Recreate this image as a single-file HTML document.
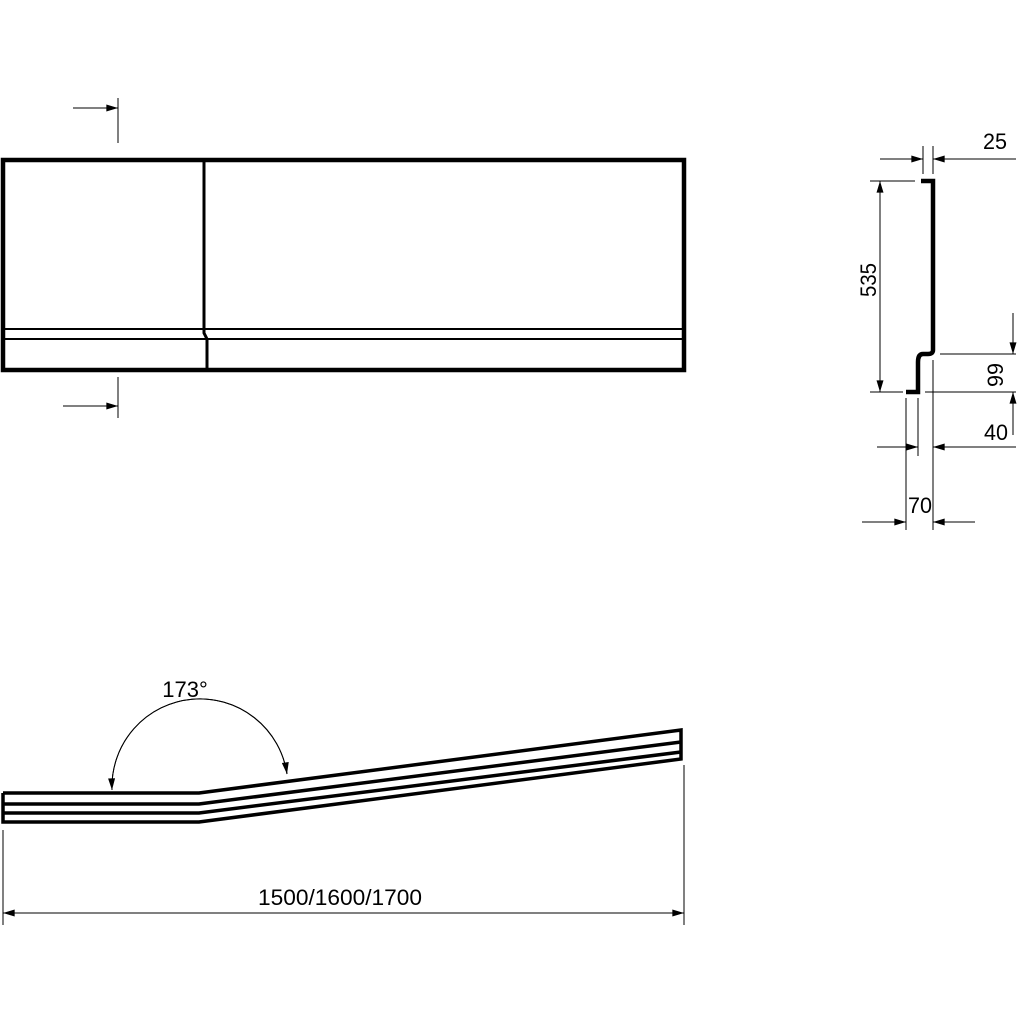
<!DOCTYPE html>
<html><head><style>
html,body{margin:0;padding:0;background:#fff;}
svg{display:block;}
text{font-family:"Liberation Sans",sans-serif;fill:#000;}
</style></head><body>
<svg width="1024" height="1024" viewBox="0 0 1024 1024" xmlns="http://www.w3.org/2000/svg">
<defs>
<marker id="a" viewBox="0 0 10 6" refX="10" refY="3" markerWidth="16" markerHeight="7" markerUnits="userSpaceOnUse" orient="auto">
<path d="M0,0 L10,3 L0,6 z" fill="#000"/></marker>
</defs>
<g fill="none" stroke="#000">
<rect x="3" y="160" width="681" height="210" stroke-width="4.5"/>
<line x1="3" y1="329" x2="684" y2="329" stroke-width="2"/>
<line x1="3" y1="339" x2="684" y2="339" stroke-width="2"/>
<polyline points="204,160 204,333 207,339 207,370" stroke-width="3"/>
<line x1="118" y1="98" x2="118" y2="143" stroke-width="1"/>
<line x1="73" y1="108" x2="118" y2="108" stroke-width="1" marker-end="url(#a)"/>
<line x1="118" y1="377" x2="118" y2="418" stroke-width="1"/>
<line x1="63" y1="406" x2="118" y2="406" stroke-width="1" marker-end="url(#a)"/>

<path d="M921,181 L933,181 L933,350 Q933,354 928,354 L923,354 Q918,354 918,362 L918,392 L906,392" stroke-width="4.5"/>
<g stroke-width="1">
<line x1="923" y1="146" x2="923" y2="174"/>
<line x1="933" y1="146" x2="933" y2="174"/>
<line x1="880" y1="159" x2="923" y2="159" marker-end="url(#a)"/>
<line x1="1016" y1="159" x2="933" y2="159" marker-end="url(#a)"/>
<line x1="870" y1="181" x2="915" y2="181"/>
<line x1="870" y1="392" x2="903" y2="392"/>
<line x1="880" y1="286" x2="880" y2="181" marker-end="url(#a)"/>
<line x1="880" y1="286" x2="880" y2="392" marker-end="url(#a)"/>
<line x1="940" y1="354" x2="1016" y2="354"/>
<line x1="925" y1="392" x2="1016" y2="392"/>
<line x1="1013" y1="313" x2="1013" y2="354" marker-end="url(#a)"/>
<line x1="1013" y1="435" x2="1013" y2="392" marker-end="url(#a)"/>
<line x1="906" y1="398" x2="906" y2="530"/>
<line x1="918" y1="398" x2="918" y2="456"/>
<line x1="933" y1="360" x2="933" y2="530"/>
<line x1="877" y1="447" x2="918" y2="447" marker-end="url(#a)"/>
<line x1="1016" y1="447" x2="933" y2="447" marker-end="url(#a)"/>
<line x1="862" y1="522" x2="906" y2="522" marker-end="url(#a)"/>
<line x1="975" y1="522" x2="933" y2="522" marker-end="url(#a)"/>
</g>

<g stroke-width="3.5">
<polyline points="3,793 199,793 681,730 681,759 199,822 3,822 3,793"/>
<polyline points="3,804 199,804 681,742"/>
<polyline points="3,813 199,813 681,752"/>
</g>
<g stroke-width="1">
<path d="M287,774 A88,88 0 0 0 112,790" marker-end="url(#a)"/>
<path d="M112,790 A88,88 0 0 1 287,774" marker-end="url(#a)"/>
<line x1="3" y1="830" x2="3" y2="925"/>
<line x1="684" y1="765" x2="684" y2="925"/>
<line x1="340" y1="913" x2="3" y2="913" marker-end="url(#a)"/>
<line x1="340" y1="913" x2="684" y2="913" marker-end="url(#a)"/>
</g>
</g>
<g font-size="22">
<text x="995" y="149" text-anchor="middle" textLength="24" lengthAdjust="spacingAndGlyphs">25</text>
<text transform="translate(876,280) rotate(-90)" text-anchor="middle" textLength="34" lengthAdjust="spacingAndGlyphs">535</text>
<text transform="translate(1003,375) rotate(-90)" text-anchor="middle" textLength="24" lengthAdjust="spacingAndGlyphs">99</text>
<text x="996" y="440" text-anchor="middle" textLength="24" lengthAdjust="spacingAndGlyphs">40</text>
<text x="920" y="513" text-anchor="middle" textLength="24" lengthAdjust="spacingAndGlyphs">70</text>
<text x="185" y="697" text-anchor="middle">173°</text>
<text x="340" y="905" text-anchor="middle" textLength="164" lengthAdjust="spacingAndGlyphs">1500/1600/1700</text>
</g>
</svg>
</body></html>
